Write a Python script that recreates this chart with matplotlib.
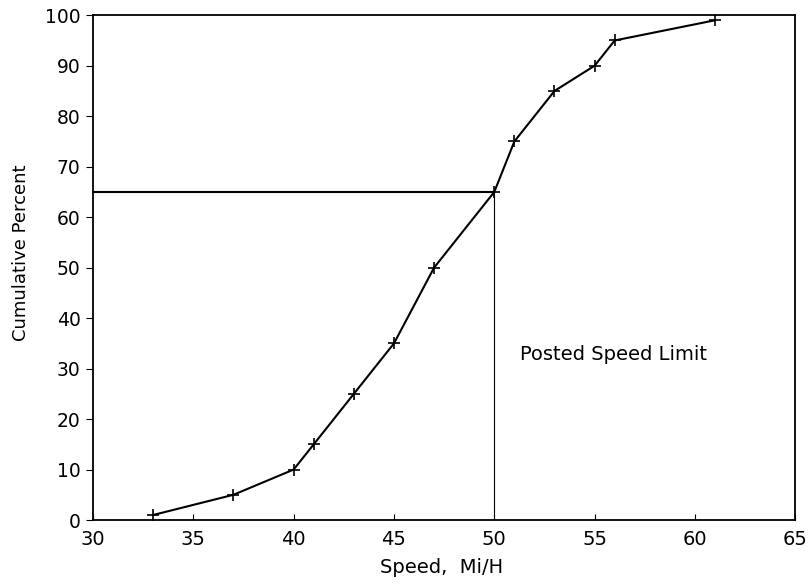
import matplotlib
matplotlib.use('Agg')
import matplotlib.pyplot as plt

# cumulative speed distribution
speed = [33, 37, 40, 41, 43, 45, 47, 50, 51, 53, 55, 56, 61]
cum_pct = [1, 5, 10, 15, 25, 35, 50, 65, 75, 85, 90, 95, 99]

posted_limit = 50
limit_pct = 65

xticks = [30, 35, 40, 45, 50, 55, 60, 65]
yticks = [0, 10, 20, 30, 40, 50, 60, 70, 80, 90, 100]

plt.rcParams['font.family'] = ['DejaVu Sans']

fig = plt.figure(figsize=(8.09, 5.86), dpi=100)
ax = fig.add_axes([0.115, 0.1126, 0.868, 0.8614])

ax.plot(speed, cum_pct, color='black', lw=1.5, marker='+', ms=9, mew=1.2)

# lines marking the posted speed limit
ax.plot([30, posted_limit], [limit_pct, limit_pct], color='black', lw=1.5)
ax.plot([posted_limit, posted_limit], [0, limit_pct], color='black', lw=0.8)
ax.text(51.3, 32.7, 'Posted Speed Limit', fontsize=14, va='center', ha='left')

ax.set_xlim(30, 65)
ax.set_ylim(0, 100)
ax.set_xticks(xticks)
ax.set_yticks(yticks)
ax.tick_params(axis='x', direction='in', length=4, labelsize=14, pad=7)
ax.tick_params(axis='y', direction='out', length=5, labelsize=13.5, pad=4)
for s in ax.spines.values():
    s.set_linewidth(1.3)

ax.set_xlabel('Speed,  Mi/H', fontsize=14)
ax.xaxis.set_label_coords(0.497, -0.095)
ax.xaxis.label.set_va('center')
ax.set_ylabel('Cumulative Percent', fontsize=13)
ax.yaxis.set_label_coords(-0.103, 0.53)
ax.yaxis.label.set_va('center')

fig.savefig('out.png', dpi=100)
